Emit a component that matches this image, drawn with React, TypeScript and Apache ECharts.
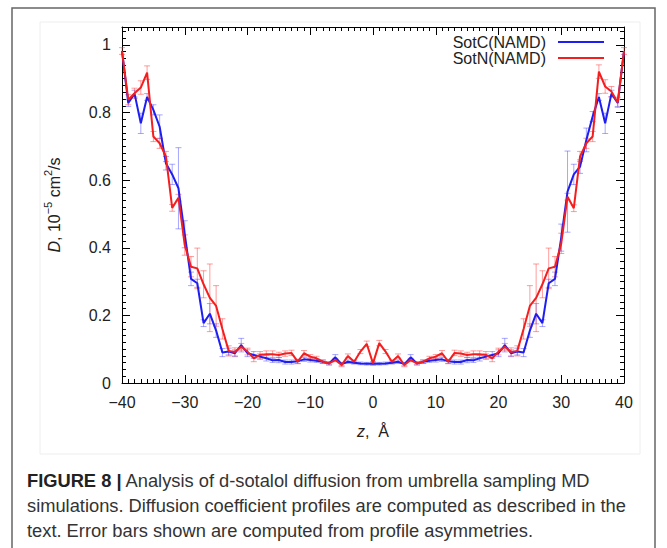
import React, { useEffect, useRef } from 'react';
import * as echarts from 'echarts';

// z positions (Å)
const Z = [
  -40, -39, -38, -37, -36, -35, -34, -33, -32, -31, -30, -29, -28, -27, -26, -25, -24, -23, -22, -21,
  -20, -19, -18, -17, -16, -15, -14, -13, -12, -11, -10, -9, -8, -7, -6, -5, -4, -3, -2, -1,
  0,
  1, 2, 3, 4, 5, 6, 7, 8, 9, 10, 11, 12, 13, 14, 15, 16, 17, 18, 19, 20,
  21, 22, 23, 24, 25, 26, 27, 28, 29, 30, 31, 32, 33, 34, 35, 36, 37, 38, 39, 40,
];

// SotC(NAMD) diffusion coefficient, 10^-5 cm^2/s
const SOTC = [
  0.982, 0.828, 0.856, 0.768, 0.846, 0.808, 0.758, 0.650, 0.617, 0.576, 0.440, 0.308, 0.295, 0.177, 0.205, 0.155, 0.090, 0.093, 0.088, 0.112,
  0.088, 0.083, 0.078, 0.073, 0.067, 0.068, 0.062, 0.062, 0.064, 0.070, 0.068, 0.066, 0.063, 0.058, 0.076, 0.056, 0.063, 0.060, 0.058, 0.057,
  0.057,
  0.057, 0.058, 0.060, 0.063, 0.056, 0.076, 0.058, 0.063, 0.066, 0.068, 0.070, 0.064, 0.062, 0.062, 0.068, 0.067, 0.073, 0.078, 0.083, 0.088,
  0.112, 0.088, 0.093, 0.090, 0.155, 0.205, 0.177, 0.295, 0.308, 0.430, 0.566, 0.617, 0.640, 0.719, 0.788, 0.846, 0.768, 0.856, 0.828, 0.982,
];
const SOTC_ERR = [
  0, 0.01, 0.01, 0.03, 0.01, 0.015, 0.035, 0.02, 0.03, 0.12, 0.04, 0.02, 0.012, 0.01, 0.03, 0.02, 0.012, 0.01, 0.01, 0.02,
  0.01, 0.01, 0.008, 0.008, 0.006, 0.008, 0.006, 0.006, 0.006, 0.006, 0.006, 0.005, 0.005, 0.004, 0.008, 0.005, 0.005, 0.004, 0.004, 0.004,
  0.004,
  0.004, 0.004, 0.004, 0.005, 0.005, 0.008, 0.004, 0.005, 0.005, 0.006, 0.006, 0.006, 0.006, 0.006, 0.008, 0.006, 0.008, 0.008, 0.01, 0.01,
  0.02, 0.01, 0.01, 0.012, 0.02, 0.03, 0.01, 0.012, 0.02, 0.04, 0.12, 0.03, 0.02, 0.035, 0.015, 0.01, 0.03, 0.01, 0.01, 0,
];

// SotN(NAMD) diffusion coefficient, 10^-5 cm^2/s
const SOTN = [
  0.982, 0.838, 0.857, 0.874, 0.918, 0.729, 0.709, 0.670, 0.518, 0.548, 0.408, 0.344, 0.339, 0.292, 0.252, 0.228, 0.160, 0.095, 0.092, 0.107,
  0.093, 0.073, 0.083, 0.085, 0.085, 0.083, 0.087, 0.089, 0.063, 0.088, 0.078, 0.073, 0.063, 0.058, 0.068, 0.053, 0.080, 0.063, 0.093, 0.116,
  0.058,
  0.118, 0.093, 0.063, 0.080, 0.053, 0.068, 0.058, 0.063, 0.073, 0.078, 0.088, 0.063, 0.089, 0.087, 0.083, 0.085, 0.085, 0.083, 0.073, 0.093,
  0.107, 0.092, 0.095, 0.160, 0.228, 0.252, 0.292, 0.339, 0.344, 0.413, 0.551, 0.517, 0.670, 0.709, 0.729, 0.921, 0.877, 0.862, 0.830, 0.982,
];
const SOTN_ERR = [
  0.01, 0.015, 0.015, 0.02, 0.02, 0.015, 0.015, 0.015, 0.01, 0.01, 0.03, 0.03, 0.06, 0.04, 0.1, 0.06, 0.03, 0.015, 0.012, 0.01,
  0.01, 0.01, 0.01, 0.01, 0.01, 0.008, 0.008, 0.008, 0.006, 0.008, 0.006, 0.006, 0.005, 0.005, 0.005, 0.005, 0.006, 0.005, 0.006, 0.008,
  0.005,
  0.008, 0.006, 0.005, 0.006, 0.005, 0.005, 0.005, 0.005, 0.006, 0.006, 0.008, 0.006, 0.008, 0.008, 0.008, 0.01, 0.01, 0.01, 0.01, 0.01,
  0.01, 0.012, 0.015, 0.03, 0.06, 0.1, 0.04, 0.06, 0.03, 0.03, 0.01, 0.01, 0.015, 0.015, 0.015, 0.02, 0.02, 0.015, 0.015, 0.01,
];

const SERIES_NAMES = ['SotC(NAMD)', 'SotN(NAMD)'];
const CAPTION = [
  'Analysis of d-sotalol diffusion from umbrella sampling MD',
  'simulations. Diffusion coefficient profiles are computed as described in the',
  'text. Error bars shown are computed from profile asymmetries.',
];

const FONT = 'Liberation Sans, Arial, Helvetica, sans-serif';

export default function App() {
  const ref = useRef<HTMLDivElement>(null);
  useEffect(() => {
    document.body.style.margin = '0';
    const chart = echarts.init(ref.current!, null, { renderer: 'svg' });
    const blue = '#1e1ef2';
    const red = '#f51e1e';
    const pair = (vals: number[]) => Z.map((z, i) => [z, vals[i]]);
    const errData = (vals: number[], errs: number[]) =>
      Z.map((z, i) => [z, vals[i] - errs[i], vals[i] + errs[i]]);
    const errSeries = (name: string, vals: number[], errs: number[], color: string) => ({
      type: 'custom',
      name,
      data: errData(vals, errs),
      z: 1,
      silent: true,
      encode: { x: 0, y: [1, 2] },
      renderItem: (params: any, api: any) => {
        const x = api.value(0);
        const lo = api.value(1);
        const hi = api.value(2);
        if (hi - lo < 1e-9) return null;
        const p1 = api.coord([x, lo]);
        const p2 = api.coord([x, hi]);
        const w = 3;
        const style = { stroke: color, lineWidth: 1, fill: 'none' };
        return {
          type: 'group',
          children: [
            { type: 'line', shape: { x1: p1[0], y1: p1[1], x2: p2[0], y2: p2[1] }, style },
            { type: 'line', shape: { x1: p1[0] - w, y1: p1[1], x2: p1[0] + w, y2: p1[1] }, style },
            { type: 'line', shape: { x1: p2[0] - w, y1: p2[1], x2: p2[0] + w, y2: p2[1] }, style },
          ],
        };
      },
    });

    const tickStyle = { color: '#000', width: 1 };
    const xFmt = (v: number) => (v < 0 ? '\u2212' + Math.abs(v) : String(v));
    const yFmt = (v: number) => {
      const r = Math.round(v * 5) / 5;
      if (Math.abs(v - r) > 1e-6) return '';
      if (r === 0) return '0';
      if (r === 1) return '1';
      return r.toFixed(1);
    };
    const baseX = {
      type: 'value',
      min: -40,
      max: 40,
      interval: 10,
      axisLine: { show: true, onZero: false, lineStyle: tickStyle },
      axisTick: { show: true, inside: true, length: 8, lineStyle: tickStyle },
      minorTick: { show: true, splitNumber: 10, length: 4, lineStyle: tickStyle },
      splitLine: { show: false },
      minorSplitLine: { show: false },
    };
    const baseY = {
      type: 'value',
      min: 0,
      max: 1.053,
      interval: 0.2,
      axisLine: { show: true, onZero: false, lineStyle: tickStyle },
      axisTick: { show: true, inside: true, length: 8, lineStyle: tickStyle },
      minorTick: { show: true, splitNumber: 10, length: 4, lineStyle: tickStyle },
      splitLine: { show: false },
      minorSplitLine: { show: false },
    };
    const nameRich = {
      i: { fontStyle: 'italic', fontSize: 16, color: '#222', fontFamily: FONT, lineHeight: 20, verticalAlign: 'bottom' },
      n: { fontSize: 16, color: '#222', fontFamily: FONT, lineHeight: 20, verticalAlign: 'bottom' },
      s: { fontSize: 11, color: '#222', fontFamily: FONT, lineHeight: 11, verticalAlign: 'top' },
    };

    chart.setOption({
      animation: false,
      backgroundColor: '#ffffff',
      grid: { left: 122, right: 43, top: 27, bottom: 165, show: false },
      legend: {
        data: SERIES_NAMES,
        orient: 'vertical',
        right: 63,
        top: 34,
        align: 'right',
        icon: 'rect',
        itemWidth: 46,
        itemHeight: 2,
        itemGap: 0,
        padding: 0,
        selectedMode: false,
        textStyle: { fontSize: 16, color: '#222', fontFamily: FONT, padding: [0, 7, 0, 0] },
      },
      xAxis: [
        {
          ...baseX,
          position: 'bottom',
          axisLabel: { formatter: xFmt, fontSize: 16, color: '#222', fontFamily: FONT, margin: 11 },
          name: '{i|z}{n|,  Å}',
          nameLocation: 'middle',
          nameGap: 36,
          nameTextStyle: { fontSize: 16, color: '#222', fontFamily: FONT, rich: nameRich },
        },
        { ...baseX, position: 'top', axisLabel: { show: false } },
      ],
      yAxis: [
        {
          ...baseY,
          position: 'left',
          axisLabel: { formatter: yFmt, fontSize: 16, color: '#222', fontFamily: FONT, margin: 11 },
          name: '{i|D}{n|, 10}{s|\u22125}{n| cm}{s|2}{n|/s}',
          nameLocation: 'middle',
          nameGap: 60,
          nameRotate: 90,
          nameTextStyle: { fontSize: 16, color: '#222', fontFamily: FONT, rich: nameRich },
        },
        { ...baseY, position: 'right', axisLabel: { show: false } },
      ],
      series: [
        errSeries('SotC err', SOTC, SOTC_ERR, 'rgba(60,60,255,0.45)'),
        errSeries('SotN err', SOTN, SOTN_ERR, 'rgba(255,60,60,0.5)'),
        {
          type: 'line',
          name: SERIES_NAMES[0],
          data: pair(SOTC),
          showSymbol: false,
          symbol: 'none',
          z: 3,
          color: blue,
          lineStyle: { color: blue, width: 2 },
        },
        {
          type: 'line',
          name: SERIES_NAMES[1],
          data: pair(SOTN),
          showSymbol: false,
          symbol: 'none',
          z: 4,
          color: red,
          lineStyle: { color: red, width: 2 },
        },
      ],
      graphic: [
        {
          type: 'rect',
          silent: true,
          z: -10,
          shape: { x: 12, y: 8, width: 643, height: 570 },
          style: { fill: 'none', stroke: '#666', lineWidth: 1.5 },
        },
        {
          type: 'rect',
          silent: true,
          z: -10,
          shape: { x: 40, y: 22, width: 600, height: 432 },
          style: { fill: 'none', stroke: '#eeeeee', lineWidth: 1 },
        },
        {
          type: 'text',
          silent: true,
          style: {
            x: 27,
            y: 480,
            text: '{b|FIGURE 8 |} ' + CAPTION[0],
            verticalAlign: 'middle',
            fill: '#333',
            fontSize: 18.3,
            fontFamily: FONT,
            rich: { b: { fontWeight: 'bold', fontSize: 18.3, fill: '#222', fontFamily: FONT } },
          },
        },
        {
          type: 'text',
          silent: true,
          style: { x: 27, y: 505, text: CAPTION[1], verticalAlign: 'middle', fill: '#333', fontSize: 18.3, fontFamily: FONT },
        },
        {
          type: 'text',
          silent: true,
          style: { x: 27, y: 530, text: CAPTION[2], verticalAlign: 'middle', fill: '#333', fontSize: 18.3, fontFamily: FONT },
        },
      ],
    });
    return () => chart.dispose();
  }, []);
  return <div ref={ref} style={{ position: 'absolute', left: 0, top: 0, width: 667, height: 548 }} />;
}
